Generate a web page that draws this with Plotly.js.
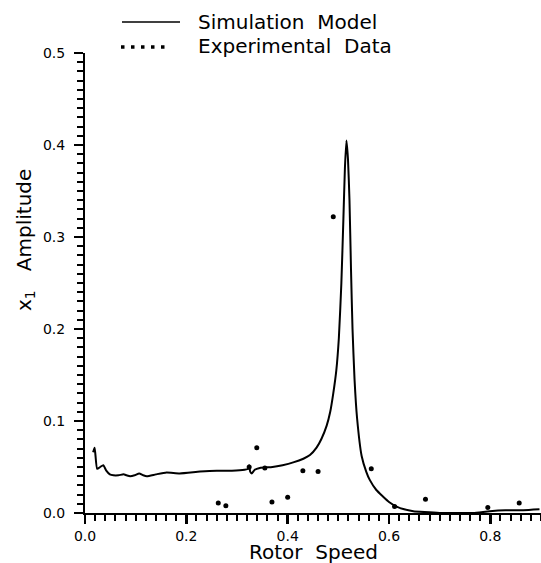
<!DOCTYPE html>
<html>
<head>
<meta charset="utf-8">
<script src="https://cdn.plot.ly/plotly-3.0.1.min.js"></script>
<style>html,body{margin:0;padding:0;background:#fff;}#chart{width:541px;height:563px;}</style>
</head>
<body>
<div id="chart"></div>
<script>
// Simulation model curve (rotor speed vs x1 amplitude)
const simSpeed = [0.016, 0.019, 0.024, 0.030, 0.036, 0.042, 0.049, 0.056, 0.066, 0.076, 0.082, 0.089, 0.098, 0.107, 0.115, 0.122, 0.140, 0.161, 0.187, 0.227, 0.260, 0.290, 0.315, 0.322, 0.324, 0.326, 0.329, 0.335, 0.345, 0.370, 0.390, 0.411, 0.431, 0.444, 0.457, 0.467, 0.477, 0.484, 0.490, 0.496, 0.501, 0.506, 0.510, 0.513, 0.516, 0.519, 0.522, 0.525, 0.528, 0.532, 0.537, 0.546, 0.555, 0.562, 0.575, 0.588, 0.600, 0.615, 0.630, 0.648, 0.670, 0.700, 0.730, 0.766, 0.799, 0.830, 0.865, 0.897];
const simAmp   = [0.066, 0.071, 0.048, 0.050, 0.052, 0.046, 0.042, 0.041, 0.041, 0.042, 0.041, 0.040, 0.041, 0.043, 0.041, 0.040, 0.042, 0.044, 0.043, 0.045, 0.046, 0.046, 0.047, 0.048, 0.052, 0.045, 0.043, 0.047, 0.049, 0.050, 0.052, 0.055, 0.059, 0.063, 0.071, 0.081, 0.095, 0.110, 0.130, 0.155, 0.190, 0.250, 0.320, 0.375, 0.405, 0.385, 0.340, 0.265, 0.200, 0.145, 0.103, 0.062, 0.045, 0.036, 0.025, 0.018, 0.012, 0.007, 0.004, 0.002, 0.001, 0.000, 0.000, 0.000, 0.002, 0.003, 0.003, 0.004];

// Experimental data points
const expSpeed = [0.263, 0.278, 0.324, 0.339, 0.355, 0.369, 0.400, 0.430, 0.460, 0.490, 0.565, 0.611, 0.672, 0.795, 0.857];
const expAmp   = [0.011, 0.008, 0.050, 0.071, 0.049, 0.012, 0.017, 0.046, 0.045, 0.322, 0.048, 0.007, 0.015, 0.006, 0.011];

// Legend labels, axis text and ticks
const legendLabels = ["Simulation\u00a0\u00a0Model", "Experimental\u00a0\u00a0Data"];
const xTitle = "Rotor\u00a0\u00a0Speed";
const yTitle = "x<sub>1</sub>\u00a0\u00a0\u00a0Amplitude";
const xRange = [0, 0.9];
const yRange = [0, 0.5];
const xMajorStep = 0.2, xMinorStep = 0.02;
const yMajorStep = 0.1, yMinorStep = 0.01;

const FONT = "DejaVu Sans, sans-serif";

const traces = [
  { x: simSpeed, y: simAmp, type: "scatter", mode: "lines",
    line: { color: "#000", width: 2, shape: "spline", smoothing: 0.5 }, name: legendLabels[0],
    showlegend: false },
  { x: expSpeed, y: expAmp, type: "scatter", mode: "markers",
    marker: { color: "#000", size: 5, symbol: "circle" }, name: legendLabels[1],
    showlegend: false }
];

const L = 85, W = 541, H = 563, T = 53, B = 50;
const pw = W - L, ph = H - T - B;
const px = v => (v - L) / pw;          // pixel -> paper x (decoration only)
const py = v => (H - B - v) / ph;      // pixel -> paper y

const layout = {
  width: W, height: H,
  margin: { l: L, r: 0, t: T, b: B, pad: 0 },
  paper_bgcolor: "#fff", plot_bgcolor: "#fff",
  font: { family: FONT, color: "#000", size: 14 },
  showlegend: false,
  xaxis: {
    range: xRange, showgrid: false, zeroline: false, automargin: false,
    showline: true, linecolor: "#000", linewidth: 2,
    ticks: "outside", ticklen: 9, tickwidth: 2.5, tickcolor: "#000",
    tickmode: "linear", tick0: 0, dtick: xMajorStep, tickformat: ".1f",
    tickfont: { family: FONT, size: 14 },
    minor: { ticks: "outside", tick0: 0, dtick: xMinorStep, ticklen: 6, tickwidth: 2, tickcolor: "#000", showgrid: false }
  },
  yaxis: {
    range: yRange, showgrid: false, zeroline: false, automargin: false,
    showline: true, linecolor: "#000", linewidth: 2,
    ticks: "outside", ticklen: 9, tickwidth: 2.5, tickcolor: "#000",
    tickmode: "linear", tick0: 0, dtick: yMajorStep, tickformat: ".1f",
    tickfont: { family: FONT, size: 14 },
    ticklabelstandoff: 6,
    minor: { ticks: "outside", tick0: 0, dtick: yMinorStep, ticklen: 6, tickwidth: 2, tickcolor: "#000", showgrid: false }
  },
  shapes: [
    { type: "line", xref: "paper", yref: "paper", x0: px(122), x1: px(180), y0: py(22), y1: py(22),
      line: { color: "#000", width: 1.5 } },
    { type: "line", xref: "paper", yref: "paper", x0: px(121), x1: px(165), y0: py(47), y1: py(47),
      line: { color: "#000", width: 3.5, dash: "3.5px,6.5px" } }
  ],
  annotations: [
    { xref: "paper", yref: "paper", x: px(196), y: py(22), xanchor: "left", yanchor: "middle",
      text: legendLabels[0], showarrow: false, font: { family: FONT, size: 20 } },
    { xref: "paper", yref: "paper", x: px(196), y: py(46), xanchor: "left", yanchor: "middle",
      text: legendLabels[1], showarrow: false, font: { family: FONT, size: 20 } },
    { xref: "paper", yref: "paper", x: 0.5, y: py(552), xanchor: "center", yanchor: "middle",
      text: xTitle, showarrow: false, font: { family: FONT, size: 20 } },
    { xref: "paper", yref: "paper", x: px(25), y: py(240), xanchor: "center", yanchor: "middle",
      textangle: -90, text: yTitle, showarrow: false, font: { family: FONT, size: 20 } }
  ]
};

Plotly.newPlot("chart", traces, layout, { displayModeBar: false, staticPlot: true });
</script>
</body>
</html>
